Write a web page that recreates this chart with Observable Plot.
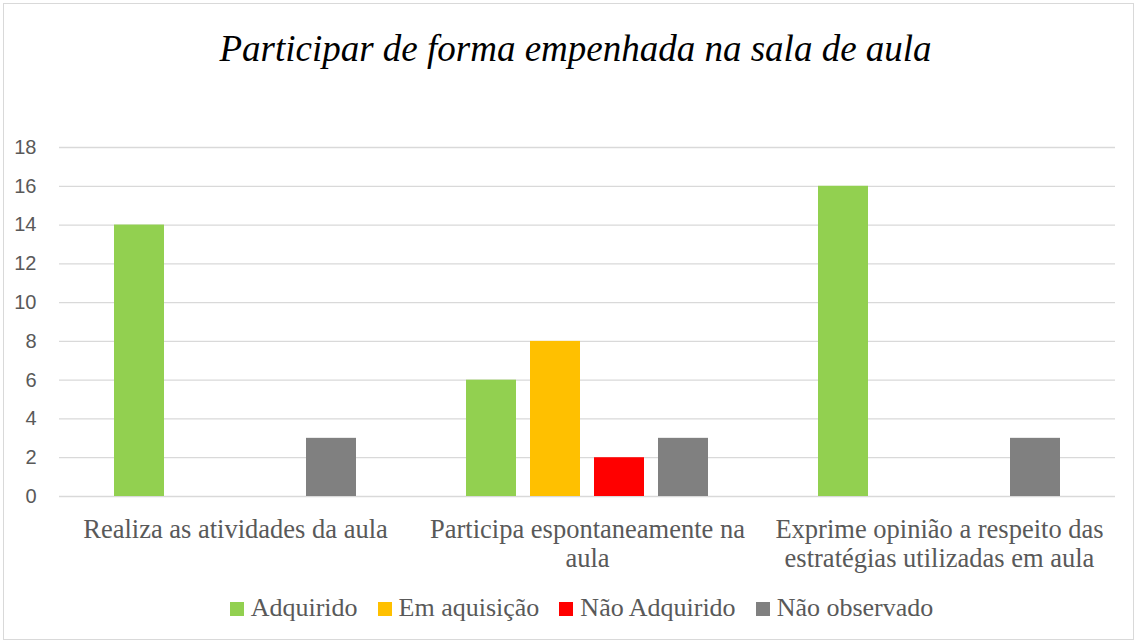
<!DOCTYPE html>
<html>
<head>
<meta charset="utf-8">
<script src="https://cdn.jsdelivr.net/npm/d3@7"></script>
<script src="https://cdn.jsdelivr.net/npm/@observablehq/plot@0.6"></script>
<style>
  body { margin: 0; background: #fff; }
  #frame { position: absolute; left: 3px; top: 3px; width: 1129px; height: 635px; border: 1px solid #d9d9d9; background: #fff; }
  #title { position: absolute; left: 0; top: 30px; width: 1137px; text-align: center; font-family: 'Liberation Serif', serif; font-style: italic; font-size: 37px; line-height: 1; color: #000; padding-left: 14px; box-sizing: border-box; white-space: nowrap; }
  #chart { position: absolute; left: 0; top: 130px; }
  #legend { position: absolute; left: 0; top: 595px; width: 1137px; display: flex; justify-content: center; padding-left: 26px; box-sizing: border-box; font-family: 'Liberation Serif', serif; font-size: 26px; line-height: 1; color: #595959; white-space: nowrap; }
  .item { display: flex; align-items: center; margin: 0 10px; }
  .sw { width: 14px; height: 14px; margin-right: 7px; position: relative; top: 1px; }
</style>
</head>
<body>
<div id="frame"></div>
<div id="title">Participar de forma empenhada na sala de aula</div>
<div id="chart"></div>
<div id="legend"></div>
<script>
const categories = [
  "Realiza as atividades da aula",
  "Participa espontaneamente na aula",
  "Exprime opinião a respeito das estratégias utilizadas em aula"
];
const categoryLabels = [
  "Realiza as atividades da aula",
  "Participa espontaneamente na\naula",
  "Exprime opinião a respeito das\nestratégias utilizadas em aula"
];
const series = ["Adquirido", "Em aquisição", "Não Adquirido", "Não observado"];
const colors = ["#92d050", "#ffc000", "#ff0000", "#808080"];
const adquirido = [14, 6, 16];
const emAquisicao = [0, 8, 0];
const naoAdquirido = [0, 2, 0];
const naoObservado = [3, 3, 3];
const yTicks = [0, 2, 4, 6, 8, 10, 12, 14, 16, 18];

const seriesValues = [adquirido, emAquisicao, naoAdquirido, naoObservado];
const data = [];
categories.forEach((c, i) => {
  series.forEach((s, j) => {
    data.push({group: c, status: s, value: seriesValues[j][i]});
  });
});

const chart = Plot.plot({
  width: 1137,
  height: 450,
  marginLeft: 58,
  marginRight: 22,
  marginTop: 17,
  marginBottom: 84,
  style: {fontFamily: "Liberation Serif", background: "transparent"},
  fx: {domain: categories, padding: 0, label: null, axis: null},
  x: {domain: series, paddingInner: 0.22, paddingOuter: 0.86, axis: null},
  y: {domain: [0, 18], label: null, axis: null},
  color: {domain: series, range: colors},
  marks: [
    Plot.gridY({ticks: yTicks, stroke: "#d9d9d9", strokeOpacity: 1, strokeWidth: 1.3}),
    Plot.axisY({ticks: yTicks, tickSize: 0, tickPadding: 23, fontSize: 20, fontFamily: "Liberation Sans", fill: "#595959", label: null}),
    Plot.axisFx({
      anchor: "bottom",
      tickSize: 0, tickPadding: 21, fontSize: 26.5, fontFamily: "Liberation Serif", fill: "#595959", label: null,
      lineHeight: 1.1,
      tickFormat: (d) => categoryLabels[categories.indexOf(d)]
    }),
    Plot.barY(data, {fx: "group", x: "status", y: "value", fill: "status"})
  ]
});
document.getElementById("chart").appendChild(chart);

const legend = document.getElementById("legend");
series.forEach((s, j) => {
  const item = document.createElement("div");
  item.className = "item";
  const sw = document.createElement("span");
  sw.className = "sw";
  sw.style.background = colors[j];
  const t = document.createElement("span");
  t.textContent = s;
  item.appendChild(sw);
  item.appendChild(t);
  legend.appendChild(item);
});
</script>
</body>
</html>
